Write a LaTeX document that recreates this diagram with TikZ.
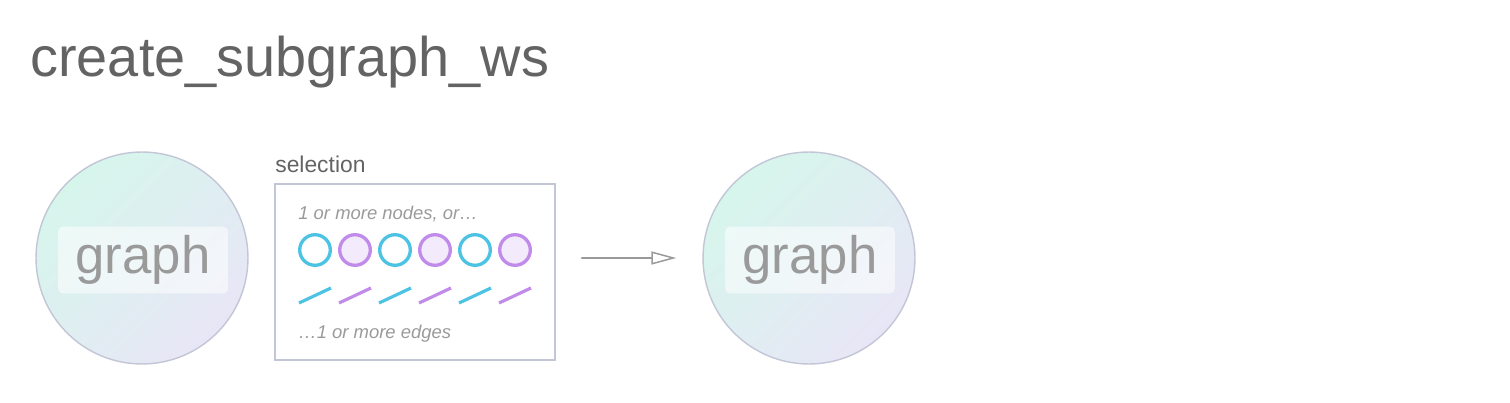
\documentclass[tikz,border=0pt]{standalone}
\usepackage{fontspec}
\setmainfont{Liberation Sans}
\usetikzlibrary{arrows.meta}
\definecolor{titlegray}{HTML}{636363}
\definecolor{textgray}{HTML}{9A9A9A}
\definecolor{rimgray}{HTML}{C3C6D6}
\definecolor{mint}{HTML}{D6F6EC}
\definecolor{lav}{HTML}{E8E6F6}
\definecolor{cyn}{HTML}{4CC3E3}
\definecolor{prp}{HTML}{C08BE9}
\definecolor{prpfill}{HTML}{F3EAFC}
\tikzset{
  graphball/.style={circle, draw=rimgray, line width=0.8pt, minimum size=4.24cm,
    inner sep=0, top color=mint, bottom color=lav, shading angle=45},
  graphtag/.style={rounded corners=3pt, fill=white, fill opacity=0.55, text opacity=1,
    minimum width=3.4cm, minimum height=1.34cm, text=textgray, font=\fontsize{30}{30}\selectfont},
  pick/.style={circle, line width=1.9pt, minimum size=0.612cm, inner sep=0},
  edgeline/.style={line width=1.8pt},
  hint/.style={anchor=base west, text=textgray, font=\fontsize{10.5}{12}\selectfont\itshape, inner sep=0},
}
\begin{document}
\begin{tikzpicture}[x=0.02cm, y=-0.02cm, line cap=round]
  \useasboundingbox (0,0) rectangle (1510,402);
  % Title.
  \node[anchor=base west, inner sep=0, text=titlegray, font=\fontsize{31.8}{36}\selectfont] (title) at (30,77) {create\_subgraph\_ws};
  % Input and output graphs.
  \node[graphball] (graphA) at (142,258) {};
  \node[graphtag] (tagA) at (143,260) {graph};
  \node[graphball] (graphB) at (809,258) {};
  \node[graphtag] (tagB) at (810,260) {graph};
  % Selection box.
  \node[draw=rimgray, line width=0.85pt, minimum width=5.6cm, minimum height=3.52cm, inner sep=0] (sel) at (415,272) {};
  \node[anchor=base west, inner sep=0, text=titlegray, font=\fontsize{13}{15}\selectfont] (selname) at (275,172) {selection};
  \node[hint] (nodehint) at (298,219) {1 or more nodes, or\ldots};
  \node[hint] (edgehint) at (298,338) {\ldots1 or more edges};
  % Nodes and edges.
  \foreach \i/\c/\f in {0/cyn/white, 1/prp/prpfill, 2/cyn/white, 3/prp/prpfill, 4/cyn/white, 5/prp/prpfill} {
    \pgfmathsetmacro{\x}{315+40*\i}
    \node[pick, draw=\c, fill=\f] (n\i) at (\x,250) {};
    \draw[edgeline, \c, line cap=butt] ({\x-16},303) -- ++(32,-15);
  }
  % Arrow.
  \draw[line width=0.85pt, textgray, -{Triangle[open, length=0.5cm, width=0.26cm]}, shorten <=0.52cm, shorten >=0.52cm]
    (sel.east |- graphB.west) -- (graphB.west);
\end{tikzpicture}
\end{document}
